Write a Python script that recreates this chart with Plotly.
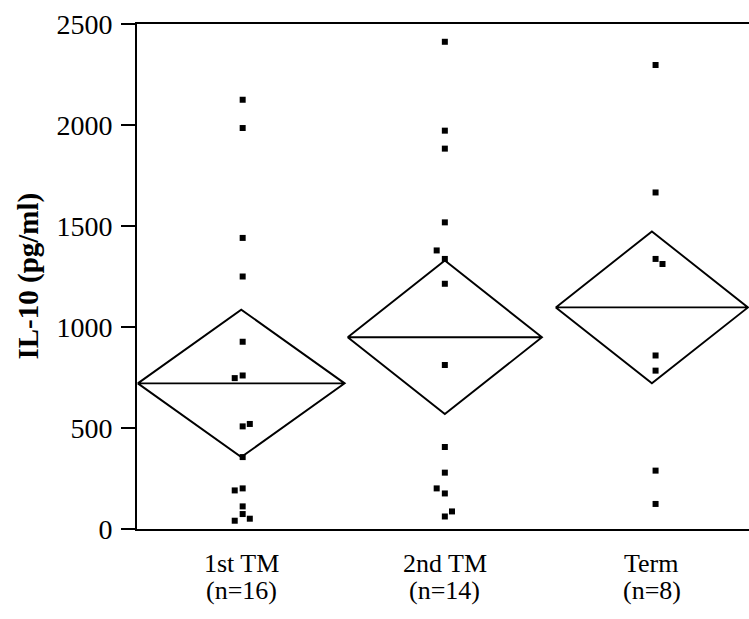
import plotly.graph_objects as go

# ---- data ----
groups = ["1st TM", "2nd TM", "Term"]
group_n = ["(n=16)", "(n=14)", "(n=8)"]
group_pos = [0.511, 1.509, 2.524]          # category centres on the x axis
diamond_halfwidth = [0.507, 0.476, 0.471]

means = [721, 949, 1097]
ci_half = [365, 380, 376]

g1_vals = [2125, 1985, 1441, 1250, 927, 760, 747, 520, 508, 356, 201, 191, 112, 74, 51, 41]
g1_jit = [.007, .007, .007, .007, .007, .007, -.032, .042, .007, .007, .007, -.032, .007, .007, .042, -.032]
g2_vals = [2412, 1972, 1883, 1518, 1379, 1337, 1214, 812, 406, 279, 201, 176, 87, 62]
g2_jit = [0, 0, 0, 0, -.04, 0, 0, 0, 0, 0, -.04, 0, .035, 0]
g3_vals = [2297, 1666, 1337, 1312, 859, 784, 289, 124]
g3_jit = [.018, .018, .018, .052, .018, .018, .018, .018]

y_ticks = [0, 500, 1000, 1500, 2000, 2500]

values = [g1_vals, g2_vals, g3_vals]
jitters = [g1_jit, g2_jit, g3_jit]

fig = go.Figure()

# means diamonds
for c, hw, m, h in zip(group_pos, diamond_halfwidth, means, ci_half):
    fig.add_trace(go.Scatter(
        x=[c - hw, c, c + hw, c, c - hw, c + hw],
        y=[m, m + h, m, m - h, m, m],
        mode="lines", line=dict(color="black", width=1.9),
        hoverinfo="skip", showlegend=False, cliponaxis=False))

# data points
for c, vals, jit in zip(group_pos, values, jitters):
    fig.add_trace(go.Scatter(
        x=[c + j for j in jit], y=vals, mode="markers",
        marker=dict(symbol="square", size=6, color="black", line=dict(width=0)),
        showlegend=False, cliponaxis=False))

serif = "Liberation Serif, Times New Roman, serif"

annotations = []
for c, g, n in zip(group_pos, groups, group_n):
    annotations.append(dict(x=c, y=-0.069, xref="x", yref="paper", text=g,
                            showarrow=False, xanchor="center", yanchor="middle",
                            font=dict(family=serif, size=26, color="black")))
    annotations.append(dict(x=c, y=-0.121, xref="x", yref="paper", text=n,
                            showarrow=False, xanchor="center", yanchor="middle",
                            font=dict(family=serif, size=26, color="black")))
annotations.append(dict(x=-0.178, y=0.5, xref="paper", yref="paper",
                        text="<b>IL-10 (pg/ml)</b>", textangle=-90, showarrow=False,
                        xanchor="center", yanchor="middle",
                        font=dict(family=serif, size=29, color="black")))

fig.update_layout(
    width=749, height=619,
    margin=dict(l=137, r=0, t=24, b=90),
    paper_bgcolor="white", plot_bgcolor="white",
    font=dict(family=serif, color="black"),
    annotations=annotations,
    xaxis=dict(range=[0, 3], showgrid=False, zeroline=False, showticklabels=False,
               ticks="", showline=True, linecolor="black", linewidth=1.9, mirror=True),
    yaxis=dict(range=[0, 2500], tickvals=y_ticks, showgrid=False, zeroline=False,
               ticks="outside", ticklen=14, tickwidth=1.9, tickcolor="black",
               showline=True, linecolor="black", linewidth=1.9,
               tickfont=dict(family=serif, size=28, color="black"),
               ticklabelstandoff=3),
)

fig.write_html("out.html",
               config={"displayModeBar": False},
               post_script="document.body.style.margin='0';document.body.style.overflow='hidden';")
